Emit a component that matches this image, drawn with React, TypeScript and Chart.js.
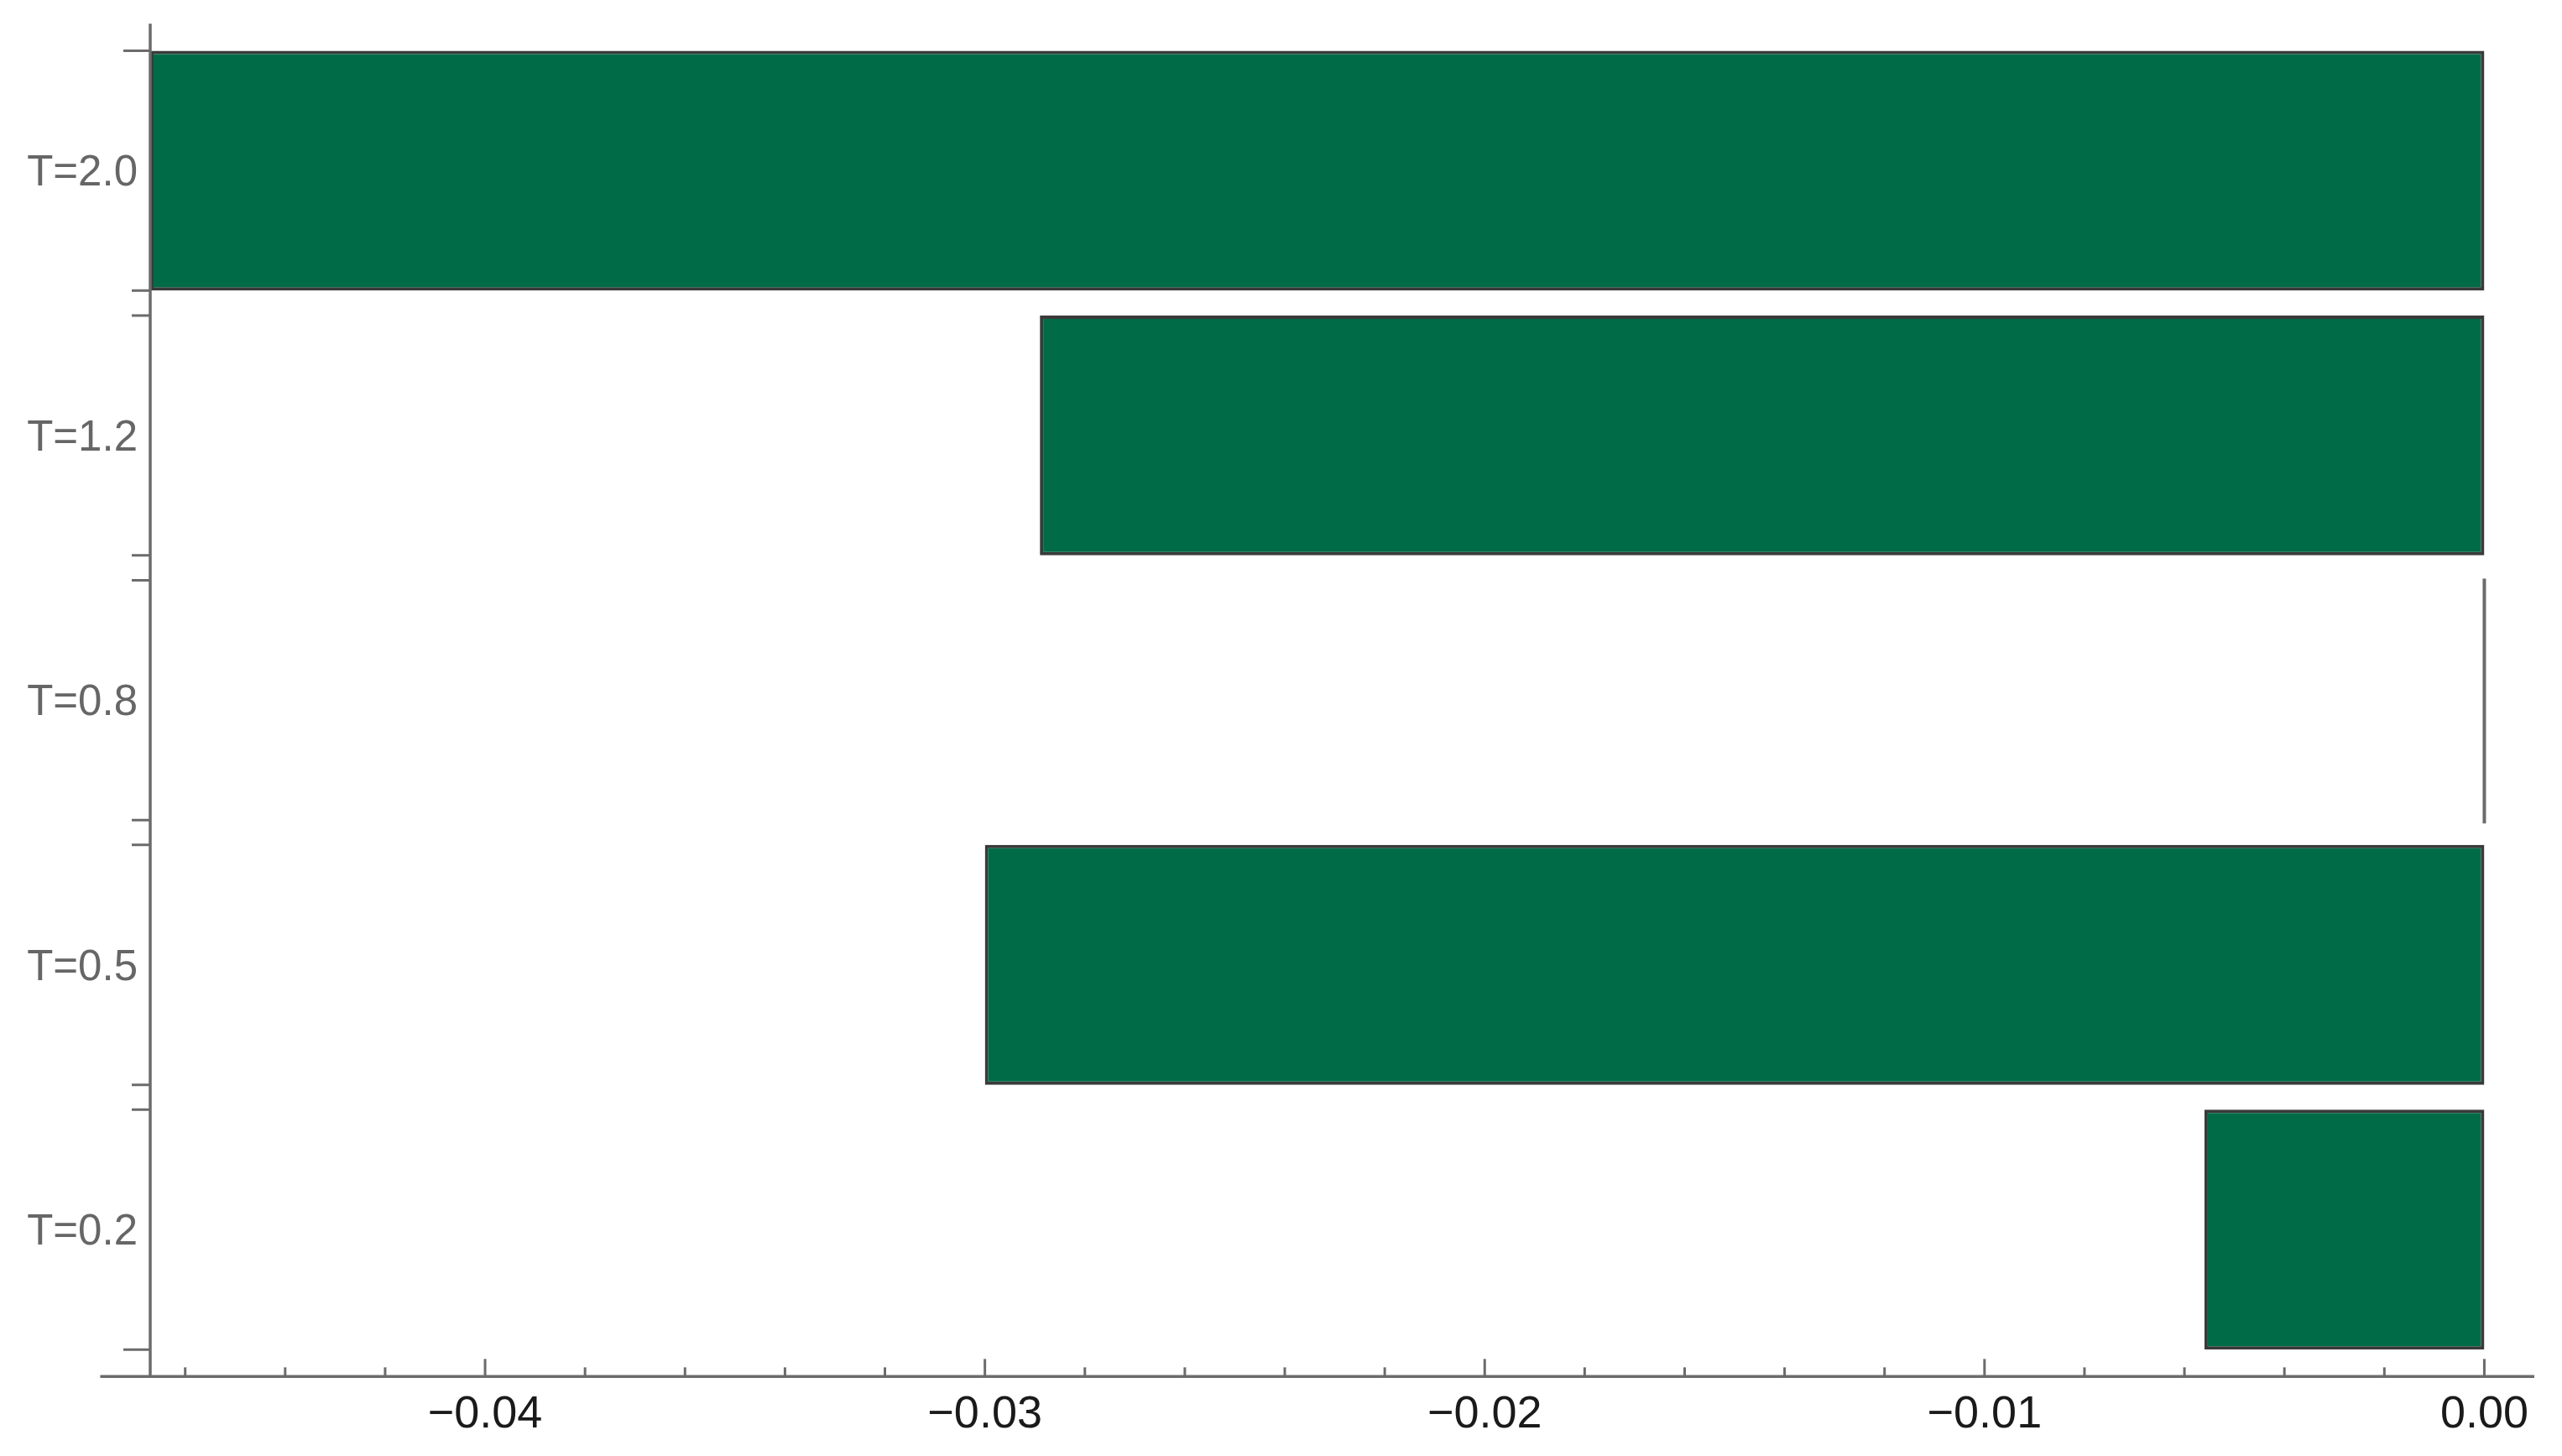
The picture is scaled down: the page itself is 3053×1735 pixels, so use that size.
import React, { useEffect, useRef } from "react";
import { Chart, registerables } from "chart.js";

Chart.register(...registerables);

// ---- data ----
const categories = ["T=2.0", "T=1.2", "T=0.8", "T=0.5", "T=0.2"];
const values = [-0.0467, -0.0289, 0, -0.03, -0.0056];
const xMajorTicks = [-0.04, -0.03, -0.02, -0.01, 0];
const xTickLabels = ["\u22120.04", "\u22120.03", "\u22120.02", "\u22120.01", "0.00"];
const xMinorTicks = [
  -0.046, -0.044, -0.042, -0.038, -0.036, -0.034, -0.032, -0.028, -0.026, -0.024, -0.022,
  -0.018, -0.016, -0.014, -0.012, -0.008, -0.006, -0.004, -0.002,
];

// ---- layout / style ----
const W = 3053;
const H = 1735;
const X_MIN = -0.0467;
const X_MAX = 0.001;
const X_AXIS_LINE_MIN = -0.0477;
const Y_AXIS_INDEX_RANGE = [-0.555, 4.555];
const AXIS_COLOR = "#6b6b6b";
const BAR_FILL = "#006b47";
const BAR_EDGE = "#3a3a3a";

const axesPlugin = {
  id: "mmaAxes",
  afterDatasetsDraw(chart: any) {
    const { ctx } = chart;
    const x = chart.scales.x;
    const y = chart.scales.y;
    const axisX = x.getPixelForValue(X_MIN);
    const axisY = y.getPixelForValue(Y_AXIS_INDEX_RANGE[1]);
    const axisTop = y.getPixelForValue(Y_AXIS_INDEX_RANGE[0]);
    ctx.save();
    ctx.strokeStyle = AXIS_COLOR;
    ctx.lineCap = "butt";

    // zero-length bars drawn as a line
    const meta = chart.getDatasetMeta(0);
    ctx.lineWidth = 4;
    meta.data.forEach((el: any, i: number) => {
      if (values[i] === 0) {
        const h = el.height;
        ctx.beginPath();
        ctx.moveTo(el.x, el.y - h / 2 - 2);
        ctx.lineTo(el.x, el.y + h / 2 + 4);
        ctx.stroke();
      }
    });

    ctx.lineWidth = 3.5;
    // x axis line
    ctx.beginPath();
    ctx.moveTo(x.getPixelForValue(X_AXIS_LINE_MIN), axisY);
    ctx.lineTo(x.getPixelForValue(X_MAX), axisY);
    ctx.stroke();
    // y axis line
    ctx.beginPath();
    ctx.moveTo(axisX, axisTop);
    ctx.lineTo(axisX, axisY);
    ctx.stroke();

    // x major ticks (inward)
    ctx.lineWidth = 3;
    xMajorTicks.forEach((v) => {
      const px = x.getPixelForValue(v);
      ctx.beginPath();
      ctx.moveTo(px, axisY);
      ctx.lineTo(px, axisY - 21);
      ctx.stroke();
    });
    xMinorTicks.forEach((v) => {
      const px = x.getPixelForValue(v);
      ctx.beginPath();
      ctx.moveTo(px, axisY);
      ctx.lineTo(px, axisY - 11);
      ctx.stroke();
    });

    // y ticks at bar edges (outward)
    const n = meta.data.length;
    meta.data.forEach((el: any, i: number) => {
      const h = el.height;
      const top = el.y - h / 2;
      const bot = el.y + h / 2;
      const lenTop = i === 0 ? 32 : 22;
      const lenBot = i === n - 1 ? 32 : 22;
      ctx.beginPath();
      ctx.moveTo(axisX, top);
      ctx.lineTo(axisX - lenTop, top);
      ctx.moveTo(axisX, bot);
      ctx.lineTo(axisX - lenBot, bot);
      ctx.stroke();
    });
    ctx.restore();
  },
};

export default function App() {
  const ref = useRef<HTMLCanvasElement | null>(null);
  useEffect(() => {
    if (!ref.current) return;
    const chart = new Chart(ref.current, {
      type: "bar",
      data: {
        labels: categories,
        datasets: [
          {
            data: values,
            backgroundColor: BAR_FILL,
            borderColor: BAR_EDGE,
            borderWidth: 4,
            borderSkipped: false,
            barPercentage: 0.906,
            categoryPercentage: 1,
            clip: false as any,
          },
        ],
      },
      options: {
        indexAxis: "y",
        animation: false,
        responsive: false,
        devicePixelRatio: 1,
        layout: { padding: { top: 45, right: 33, left: 0, bottom: 0 } },
        plugins: { legend: { display: false }, tooltip: { enabled: false } },
        scales: {
          x: {
            type: "linear",
            position: "bottom",
            min: X_MIN,
            max: X_MAX,
            grid: { display: false, drawTicks: false },
            border: { display: false },
            afterBuildTicks: (scale: any) => {
              scale.ticks = xMajorTicks.map((v) => ({ value: v }));
            },
            afterFit: (scale: any) => {
              scale.height = 112;
            },
            ticks: {
              autoSkip: false,
              maxRotation: 0,
              minRotation: 0,
              padding: 31,
              color: "#1a1a1a",
              font: { family: "'Liberation Sans', Arial, sans-serif", size: 54 },
              callback: (_v: any, i: number) => xTickLabels[i],
            },
          },
          y: {
            type: "category",
            offset: true,
            grid: { display: false, drawTicks: false },
            border: { display: false },
            afterFit: (scale: any) => {
              scale.width = 179;
            },
            ticks: {
              padding: 15,
              labelOffset: 4,
              color: "#666666",
              font: { family: "'Liberation Sans', Arial, sans-serif", size: 51 },
            },
          },
        },
      },
      plugins: [axesPlugin],
    });
    return () => chart.destroy();
  }, []);
  return (
    <div style={{ position: "absolute", left: 0, top: 0, width: W, height: H, background: "#fff" }}>
      <canvas ref={ref} width={W} height={H} style={{ width: W, height: H, display: "block" }} />
    </div>
  );
}
